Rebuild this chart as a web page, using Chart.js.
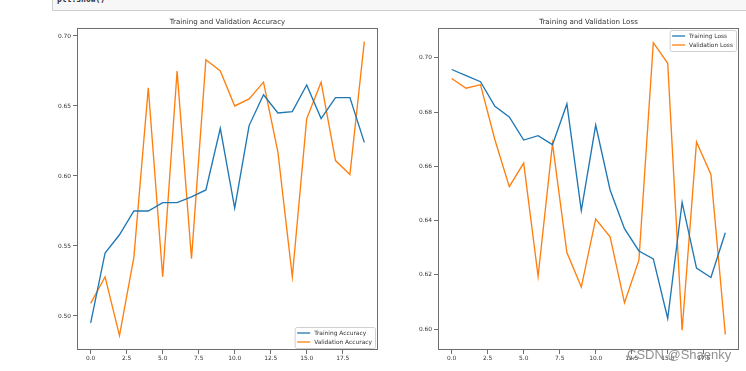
<!DOCTYPE html>
<html>
<head>
<meta charset="utf-8">
<script src="https://cdn.jsdelivr.net/npm/chart.js@4.4.0/dist/chart.umd.min.js"></script>
<style>
body { margin: 0; background: #fff; width: 746px; height: 371px; overflow: hidden; position: relative; }
#code { position: absolute; left: 52px; top: 0; width: 700px; height: 10px; background: #f7f7f7; border-left: 1px solid #cfcfcf; border-bottom: 1px solid #cfcfcf; overflow: hidden; }
#code span { position: absolute; left: 4px; top: -5px; font: bold 8px "DejaVu Sans Mono"; color: #333; }
#accChart { position: absolute; left: 0; top: 0; }
#lossChart { position: absolute; left: 386px; top: 0; }
#mark { position: absolute; left: 627px; top: 347px; font: 13px "Liberation Sans"; color: rgba(110,110,110,0.75); white-space: nowrap; }
</style>
</head>
<body>
<div id="code"><span>plt.show()</span></div>
<canvas id="accChart" width="386" height="371"></canvas>
<canvas id="lossChart" width="360" height="371"></canvas>
<div id="mark">CSDN @Shaenky</div>
<script>
const epochs = [0,1,2,3,4,5,6,7,8,9,10,11,12,13,14,15,16,17,18,19];
const trainAcc = [0.495,0.545,0.558,0.575,0.575,0.581,0.581,0.585,0.590,0.634,0.577,0.636,0.658,0.645,0.646,0.665,0.641,0.656,0.656,0.624];
const valAcc = [0.509,0.528,0.486,0.542,0.663,0.528,0.675,0.541,0.683,0.675,0.650,0.655,0.667,0.617,0.528,0.641,0.667,0.611,0.601,0.696];
const trainLoss = [0.6957,0.6934,0.6912,0.6821,0.6782,0.6697,0.6713,0.6680,0.6830,0.6437,0.6752,0.6513,0.6370,0.6288,0.6259,0.6039,0.6467,0.6225,0.6190,0.6355];
const valLoss = [0.6924,0.6888,0.6901,0.6698,0.6525,0.6612,0.6195,0.6684,0.6282,0.6155,0.6406,0.6340,0.6097,0.6254,0.7056,0.6980,0.5996,0.6690,0.6570,0.5980];
const xTicks = [0, 2.5, 5, 7.5, 10, 12.5, 15, 17.5];
const accTicks = [0.50, 0.55, 0.60, 0.65, 0.70];
const lossTicks = [0.60, 0.62, 0.64, 0.66, 0.68, 0.70];

const BLUE = '#1f77b4';
const ORANGE = '#ff7f0e';
const tickFont = { family: 'DejaVu Sans', size: 5.9 };

// matplotlib-like frame, title and legend
const mplLook = {
    id: 'mplLook',
    afterDraw: (chart, args, options) => {
        const { ctx, chartArea: a } = chart;
        ctx.save();
        ctx.strokeStyle = '#6e6e6e';
        ctx.lineWidth = 1;
        ctx.strokeRect(a.left + 0.5, a.top + 0.5, a.right - a.left - 1, a.bottom - a.top - 1);

        ctx.fillStyle = '#333';
        ctx.font = '7.1px "DejaVu Sans"';
        ctx.textAlign = 'center';
        ctx.textBaseline = 'middle';
        ctx.fillText(options.title, (a.left + a.right) / 2, a.top - 5.5);

        ctx.font = '5.9px "DejaVu Sans"';
        const sets = chart.data.datasets;
        const textW = Math.max(...sets.map(d => ctx.measureText(d.label).width));
        const w = 2.5 + 13 + 4 + textW + 3;
        const h = 21;
        const right = a.right - 3;
        const top = options.corner === 'upper' ? a.top + 2 : a.bottom - 2 - h;
        const left = right - w;
        ctx.fillStyle = 'rgba(255,255,255,0.8)';
        ctx.strokeStyle = '#d0d0d0';
        ctx.beginPath();
        ctx.roundRect(left + 0.5, top + 0.5, w, h, 2);
        ctx.fill();
        ctx.stroke();
        ctx.textAlign = 'left';
        sets.forEach((d, i) => {
            const y = top + 6 + i * 9;
            ctx.strokeStyle = d.borderColor;
            ctx.lineWidth = 1.3;
            ctx.beginPath();
            ctx.moveTo(left + 2.5, y);
            ctx.lineTo(left + 15.5, y);
            ctx.stroke();
            ctx.fillStyle = '#333';
            ctx.fillText(d.label, left + 19.5, y + 0.5);
        });
        ctx.restore();
    }
};

function series(label, values, color) {
    return {
        label: label,
        data: epochs.map((e, i) => ({ x: e, y: values[i] })),
        borderColor: color,
        backgroundColor: color,
        borderWidth: 1.35,
        pointRadius: 0,
        tension: 0,
    };
}

function makeChart(id, title, corner, sets, yMin, yMax, yTicks, yWidth, padRight) {
    return new Chart(document.getElementById(id), {
        type: 'line',
        data: { datasets: sets },
        options: {
            responsive: false,
            animation: false,
            layout: { padding: { top: 28, right: padRight, left: 0, bottom: 0 } },
            plugins: {
                legend: { display: false },
                tooltip: { enabled: false },
                mplLook: { title: title, corner: corner },
            },
            scales: {
                x: {
                    type: 'linear',
                    min: -0.95,
                    max: 19.95,
                    afterBuildTicks: s => { s.ticks = xTicks.map(v => ({ value: v })); },
                    afterFit: s => { s.height = 21; },
                    grid: { drawOnChartArea: false, drawTicks: true, tickLength: 4, color: '#6e6e6e' },
                    border: { display: false },
                    ticks: {
                        font: tickFont,
                        color: '#333',
                        padding: 1,
                        maxRotation: 0,
                        callback: v => v.toFixed(1),
                    },
                },
                y: {
                    min: yMin,
                    max: yMax,
                    afterBuildTicks: s => { s.ticks = yTicks.map(v => ({ value: v })); },
                    afterFit: s => { s.width = yWidth; },
                    grid: { drawOnChartArea: false, drawTicks: true, tickLength: 4, color: '#6e6e6e' },
                    border: { display: false },
                    ticks: {
                        font: tickFont,
                        color: '#333',
                        padding: 2,
                        callback: v => v.toFixed(2),
                    },
                },
            },
        },
        plugins: [mplLook],
    });
}

makeChart('accChart', 'Training and Validation Accuracy', 'lower',
    [series('Training Accuracy', trainAcc, BLUE), series('Validation Accuracy', valAcc, ORANGE)],
    0.4757, 0.7057, accTicks, 77, 8);

makeChart('lossChart', 'Training and Validation Loss', 'upper',
    [series('Training Loss', trainLoss, BLUE), series('Validation Loss', valLoss, ORANGE)],
    0.5923, 0.711, lossTicks, 52, 7);
</script>
</body>
</html>
